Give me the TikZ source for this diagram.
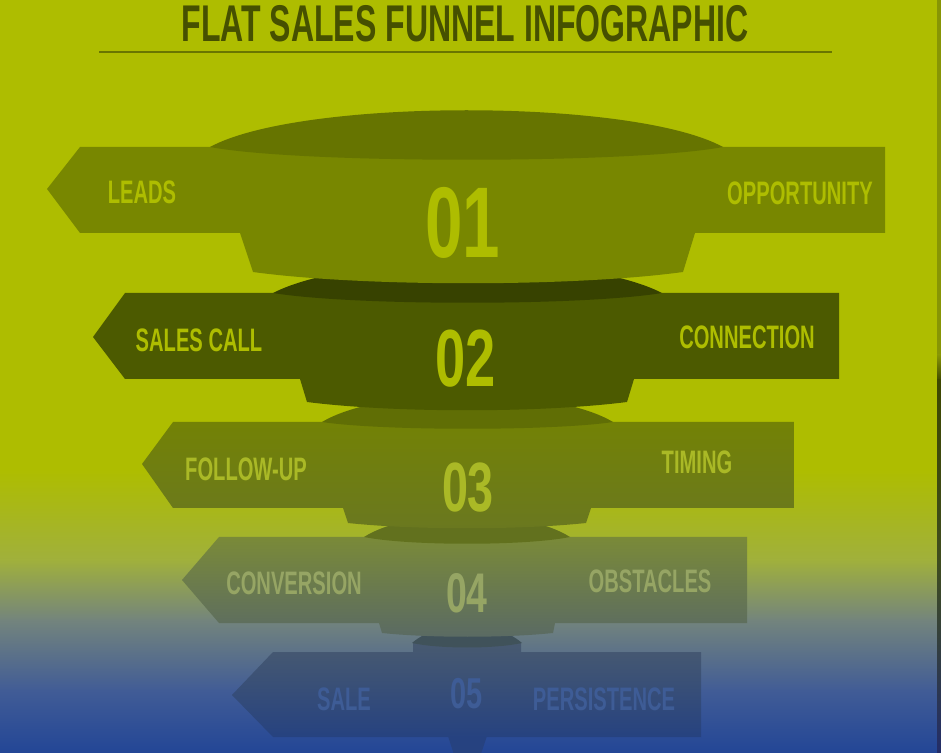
\documentclass[tikz,border=0pt]{standalone}
\usepackage{fontspec}
\setmainfont{Liberation Sans}
\newfontfamily\condfont[FakeStretch=0.62]{Liberation Sans}
\newfontfamily\digitfont[FakeStretch=0.67]{Liberation Sans}
\usepackage{tikz}

\definecolor{bgtop}{RGB}{174,189,0}
\definecolor{bgmid}{RGB}{160,176,60}
\definecolor{bggrey}{RGB}{115,132,125}
\definecolor{bgblue}{RGB}{65,92,150}
\definecolor{bgbot}{RGB}{35,70,150}
\definecolor{titlecol}{RGB}{70,80,0}
\definecolor{rulecol}{RGB}{105,118,0}
\definecolor{tierone}{RGB}{120,135,0}
\definecolor{tieronecap}{RGB}{102,116,0}
\definecolor{tiertwo}{RGB}{76,90,0}
\definecolor{tiertwocap}{RGB}{55,66,0}
\definecolor{tierthreetop}{RGB}{115,130,5}
\definecolor{tierthreebot}{RGB}{106,120,32}
\definecolor{tierthreecap}{RGB}{96,110,5}
\definecolor{tierthreetext}{RGB}{170,185,38}
\definecolor{tierfourtop}{RGB}{122,138,56}
\definecolor{tierfourbot}{RGB}{90,106,100}
\definecolor{tierfourcap}{RGB}{98,113,30}
\definecolor{tierfourtext}{RGB}{150,165,100}
\definecolor{tierfivetop}{RGB}{72,90,112}
\definecolor{tierfivebot}{RGB}{38,66,128}
\definecolor{tierfivecap}{RGB}{64,82,90}
\definecolor{tierfivetext}{RGB}{62,92,150}
\definecolor{edgetop}{RGB}{135,149,5}
\definecolor{edgedark}{RGB}{62,72,0}
\definecolor{edgebot}{RGB}{35,45,105}

\tikzset{
  tiertext/.style={inner sep=0pt, text=#1,
    font=\condfont\bfseries\fontsize{18.5}{18.5}\selectfont},
  tiernum/.style 2 args={inner sep=0pt, text=#1,
    font=\digitfont\bfseries\fontsize{#2}{#2}\selectfont}
}

\begin{document}
\begin{tikzpicture}[x=0.02cm,y=-0.02cm]
  \useasboundingbox (0,0) rectangle (941,753);
  \clip (0,0) rectangle (941,753);

  \fill[bgtop] (0,0) rectangle (941,471);
  \shade[top color=bgtop, bottom color=bgmid] (0,470) rectangle (941,561);
  \shade[top color=bgmid, bottom color=bggrey] (0,560) rectangle (941,621);
  \shade[top color=bggrey, bottom color=bgblue] (0,620) rectangle (941,691);
  \shade[top color=bgblue, bottom color=bgbot] (0,690) rectangle (941,753);

  \fill[edgetop] (937,0) rectangle (941,356);
  \shade[top color=edgetop, bottom color=edgedark] (937,355) rectangle (941,381);
  \shade[top color=edgedark, bottom color=edgedark!80!bgblue] (937,380) rectangle (941,561);
  \shade[top color=edgedark!80!bgblue, bottom color=edgebot] (937,560) rectangle (941,753);

  \node[inner sep=0pt, text=titlecol,
    font=\condfont\bfseries\fontsize{29.4}{29.4}\selectfont] (title) at (465,24)
    {FLAT SALES FUNNEL INFOGRAPHIC};
  \draw[rulecol, line width=1.2pt] (99,52) -- (832,52);

  % step 5
  \fill[tierfivebot] (448,736) -- (467,795) -- (487,736) -- cycle;
  \shade[top color=tierfivetop, bottom color=tierfivebot]
    (232,695) -- (273,652) -- (413,652) -- (413,643) -- (521,643) -- (521,652)
    -- (701,652) -- (701,737) -- (273,737) -- cycle;
  \fill[tierfivecap] (412,643) .. controls (440,619) and (494,619) .. (522,643)
    .. controls (494,649) and (440,649) .. (412,643) -- cycle;
  \node[tiertext=tierfivetext] (sale) at (344,699) {SALE};
  \node[tiertext=tierfivetext] (persistence) at (604,699) {PERSISTENCE};
  \node[tiernum={tierfivetext}{24.6}] (num5) at (467,694) {05};

  % step 4
  \shade[top color=tierfourtop, bottom color=tierfourbot]
    (182,580) -- (219,537) -- (747,537) -- (747,623) -- (555,623) -- (553,633)
    .. controls (505,638) and (430,638) .. (382,633) -- (379,623) -- (219,623) -- cycle;
  \fill[tierfourcap] (364,537) .. controls (409,508) and (525,508) .. (570,537)
    .. controls (525,546) and (409,546) .. (364,537) -- cycle;
  \node[tiertext=tierfourtext] (conversion) at (294,583) {CONVERSION};
  \node[tiertext=tierfourtext] (obstacles) at (650,581) {OBSTACLES};
  \node[tiernum={tierfourtext}{31.8}] (num4) at (467,593) {04};

  % step 3
  \shade[top color=tierthreetop, bottom color=tierthreebot]
    (142,464) -- (173,422) -- (794,422) -- (794,508) -- (591,508) -- (586,523)
    .. controls (520,530) and (414,530) .. (348,523) -- (343,508) -- (173,508) -- cycle;
  \fill[tierthreecap] (322,422) .. controls (382,386) and (553,386) .. (613,422)
    .. controls (553,431) and (382,431) .. (322,422) -- cycle;
  \node[tiertext=tierthreetext] (followup) at (246,469) {FOLLOW-UP};
  \node[tiertext=tierthreetext] (timing) at (697,462) {TIMING};
  \node[tiernum={tierthreetext}{39.7}] (num3) at (468,488) {03};

  % step 2
  \fill[tiertwo]
    (93,337) -- (125,293) -- (839,293) -- (839,379) -- (634,379) -- (627,402)
    .. controls (540,413) and (394,413) .. (307,402) -- (300,379) -- (125,379) -- cycle;
  \fill[tiertwocap] (273,293) .. controls (353,252) and (582,252) .. (662,293)
    .. controls (582,306) and (353,306) .. (273,293) -- cycle;
  \node[tiertext=bgtop] (salescall) at (199,340) {SALES CALL};
  \node[tiertext=bgtop] (connection) at (747,337) {CONNECTION};
  \node[tiernum={bgtop}{46.1}] (num2) at (466,359) {02};

  % step 1
  \fill[tierone]
    (47,189) -- (80,147) -- (885,147) -- (885,233) -- (695,233) -- (683,272)
    .. controls (573,287) and (363,287) .. (253,272) -- (240,233) -- (80,233) -- cycle;
  \fill[tieronecap] (210,147) .. controls (300,98) and (633,98) .. (723,147)
    .. controls (633,164) and (300,164) .. (210,147) -- cycle;
  \node[tiertext=bgtop] (leads) at (142,192) {LEADS};
  \node[tiertext=bgtop] (opportunity) at (800,193) {OPPORTUNITY};
  \node[tiernum={bgtop}{57.2}] (num1) at (463,223) {01};
\end{tikzpicture}
\end{document}
